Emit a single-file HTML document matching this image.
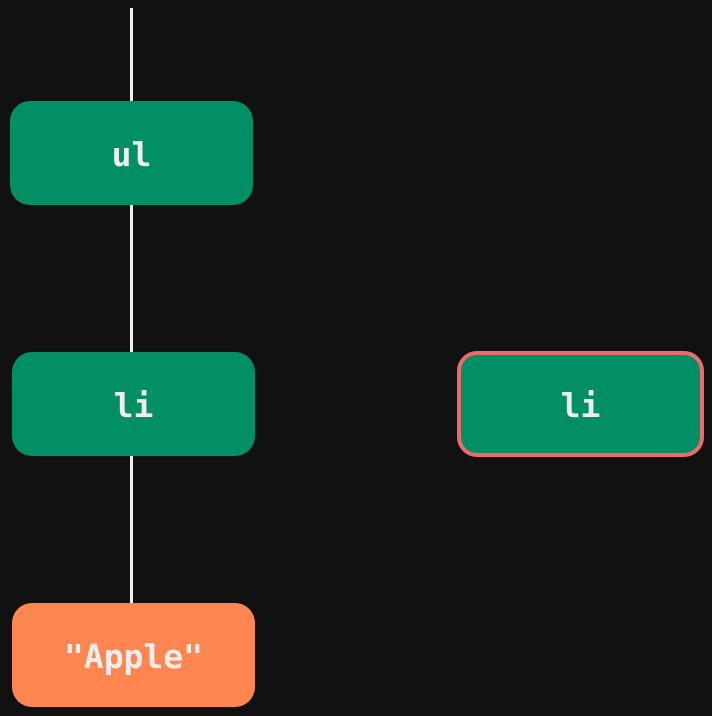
<!DOCTYPE html>
<html><head><style>
body{margin:0;width:712px;height:716px;background:#111111;position:relative;overflow:hidden;font-family:"DejaVu Sans Mono","Liberation Mono",monospace;}
.l{position:absolute;left:130px;width:3px;background:#f0f0f0;}
.b{position:absolute;box-sizing:border-box;border-radius:20px;background:#038F66;color:#eeeeee;font-size:33px;font-weight:bold;display:flex;align-items:center;justify-content:center;padding-top:3px;}
</style></head><body>
<div class="l" style="top:8px;height:600px"></div>
<div class="b" style="left:10px;top:101px;width:243px;height:104px">ul</div>
<div class="b" style="left:12px;top:352px;width:243px;height:104px">li</div>
<div class="b" style="left:12px;top:603px;width:243px;height:104px;background:#FF8551">"Apple"</div>
<div class="b" style="left:457px;top:351px;width:247px;height:106px;border:4px solid #F06A6A">li</div>
</body></html>
